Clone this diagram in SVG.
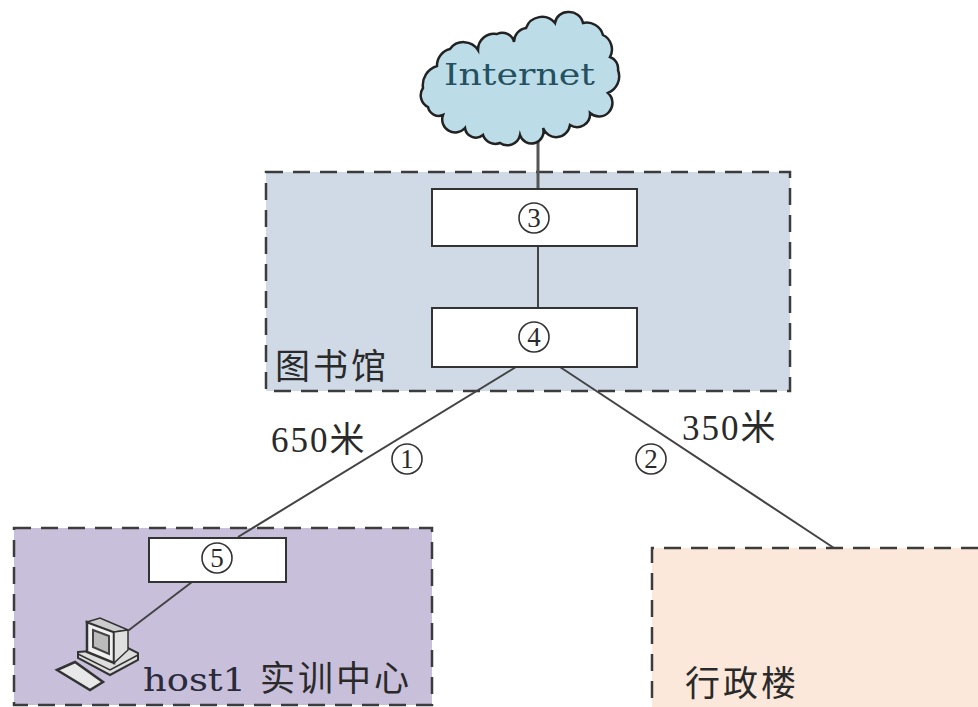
<svg xmlns="http://www.w3.org/2000/svg" width="978" height="707" viewBox="0 0 978 707">
<style>
.zone{stroke:#3c3c3c;stroke-width:2.5;stroke-dasharray:17 10;fill:none}
.box{fill:#fff;stroke:#333;stroke-width:2}
.ln{stroke:#444;stroke-width:2;fill:none}
.t{font-family:"DejaVu Serif",serif;font-size:31px;fill:#2a2a3a}
.n{font-family:"Noto Sans CJK SC",sans-serif;font-size:35px;fill:#2a2a2a;letter-spacing:3px}
.m{font-family:"Liberation Serif","Noto Sans CJK SC",serif;font-size:35px;fill:#2a2a2a;letter-spacing:2px}
.circ{fill:none;stroke:#333;stroke-width:1.6}
.d{font-family:"Liberation Serif",serif;font-size:27px;fill:#2a2a2a;text-anchor:middle}
</style>
<rect width="978" height="707" fill="#fff"/>
<g id="zone-library"><rect x="266" y="172" width="524" height="219" fill="#d0dae7"/><rect class="zone" x="266" y="172" width="524" height="219"/><text class="n" x="275" y="379">图书馆</text></g>
<g id="zone-training"><rect x="14" y="528" width="418" height="177" fill="#c8bfdb"/><rect class="zone" x="14" y="528" width="418" height="177"/><text class="t" x="143" y="691" textLength="103" lengthAdjust="spacingAndGlyphs">host1</text><text class="n" x="260" y="691">实训中心</text></g>
<g id="zone-admin"><rect x="652" y="548" width="326" height="159" fill="#fbe8da"/><path class="zone" d="M978 548H652V707"/><text class="n" x="685" y="696">行政楼</text></g>
<g id="connectors">
<path class="ln" d="M538 246V308M516 367L238 537M560 367L834 548M192 582L129 630"/>
<path d="M538 135V189" stroke="#555" stroke-width="3" fill="none"/>
</g>
<g id="cloud">
<path d="M423 88A20 20 0 0 1 437 66A17 17 0 0 1 450 49A17 17 0 0 1 478 50A16 16 0 0 1 497 34A12 12 0 0 1 514 42A14 14 0 0 1 526 28A17 17 0 0 1 555 23A13 13 0 0 1 568 12A14 14 0 0 1 583 23A17 17 0 0 1 603 35A16 16 0 0 1 610 57A12 12 0 0 1 618 70A18 18 0 0 1 608 93A13 13 0 0 1 590 113A13 13 0 0 1 570 125A14 14 0 0 1 543 128A12 12 0 0 1 520 135A13 13 0 0 1 500 143A13 13 0 0 1 483 135A11 11 0 0 1 465 128A13 13 0 0 1 443 115A11 11 0 0 1 428 107A13 13 0 0 1 423 88Z" fill="#bcdde8" stroke="#222" stroke-width="2.5"/>
<text x="444" y="85" font-family="DejaVu Serif,serif" font-size="30" fill="#24505f" textLength="151" lengthAdjust="spacingAndGlyphs">Internet</text>
</g>
<g id="node3"><rect class="box" x="432" y="189" width="205" height="57"/><circle class="circ" cx="534" cy="218" r="15"/><text class="d" x="534" y="227">3</text></g>
<g id="node4"><rect class="box" x="432" y="308" width="205" height="59"/><circle class="circ" cx="534" cy="337" r="15"/><text class="d" x="534" y="346">4</text></g>
<g id="node5"><rect class="box" x="149" y="538" width="137" height="44"/><circle class="circ" cx="217" cy="558" r="15"/><text class="d" x="217" y="567">5</text></g>
<g id="computer">
<path d="M78 652L128 648L138 653V660L110 675L78 658Z" fill="#ddd" stroke="#333" stroke-width="2"/>
<path d="M78 654L110 670L138 655" fill="none" stroke="#333" stroke-width="1.5"/>
<path d="M87 622L114 632V663L87 652Z" fill="#f0f0f0" stroke="#333" stroke-width="2.5"/>
<path d="M93 630L109 636V654L93 647Z" fill="#bbb" stroke="#444" stroke-width="2"/>
<path d="M87 622L100 618L128 630L114 632Z" fill="#ccc" stroke="#333" stroke-width="1.5"/>
<path d="M114 632L128 630V650L114 663Z" fill="#e0e0e0" stroke="#333" stroke-width="1.5"/>
<path d="M57 670L75 662L103 682L90 690Z" fill="#e8e8e8" stroke="#333" stroke-width="2.5"/>
</g>
<g id="labels">
<text class="m" x="271" y="452">650米</text>
<text class="m" x="682" y="440">350米</text>
<circle class="circ" cx="407" cy="459" r="15"/><text class="d" x="407" y="468">1</text>
<circle class="circ" cx="651" cy="459" r="15"/><text class="d" x="651" y="468">2</text>
</g>
</svg>
